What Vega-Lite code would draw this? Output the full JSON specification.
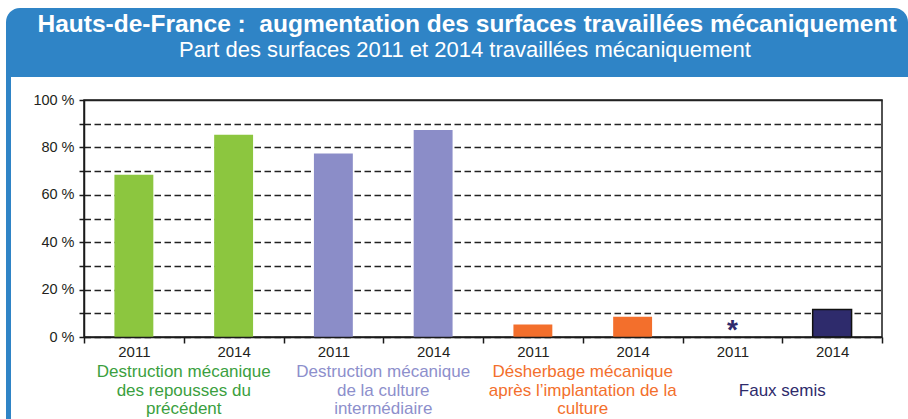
{
  "$schema": "https://vega.github.io/schema/vega-lite/v6.json",
  "padding": {"left": 6, "top": 8, "right": 0, "bottom": 0},
  "background": "white",
  "bounds": "flush",
  "spacing": 0,
  "config": {"font": "Liberation Sans"},
  "vconcat": [
    {
      "width": 902,
      "height": 69,
      "view": {"stroke": null},
      "layer": [
        {
          "data": {"values": [{}]},
          "mark": {"type": "rect", "color": "#2f84c6", "cornerRadiusTopLeft": 14, "cornerRadiusTopRight": 14},
          "encoding": {}
        },
        {
          "data": {"values": [{"line": "t", "text": "Hauts-de-France : \u00a0augmentation des surfaces travaillées mécaniquement"}]},
          "mark": {"type": "text", "fontWeight": "bold", "fontSize": 24.5, "color": "white", "baseline": "alphabetic", "dx": 10},
          "encoding": {
            "y": {"field": "line", "type": "nominal", "scale": {"type": "point", "domain": ["t", "s"], "range": [24, 48.7], "padding": 0}, "axis": null},
            "text": {"field": "text"}
          }
        },
        {
          "data": {"values": [{"line": "s", "text": "Part des surfaces 2011 et 2014 travaillées mécaniquement"}]},
          "mark": {"type": "text", "fontSize": 22, "color": "white", "baseline": "alphabetic", "dx": 8},
          "encoding": {
            "y": {"field": "line", "type": "nominal", "axis": null},
            "text": {"field": "text"}
          }
        }
      ]
    },
    {
      "width": 5,
      "height": 23,
      "view": {"stroke": null},
      "data": {"values": [{}]},
      "mark": {"type": "rect", "color": "#2f84c6"},
      "encoding": {}
    },
    {
      "spacing": 73,
      "bounds": "flush",
      "hconcat": [
        {
          "width": 5,
          "height": 319,
          "view": {"stroke": null},
          "data": {"values": [{}]},
          "mark": {"type": "rect", "color": "#2f84c6"},
          "encoding": {}
        },
        {
          "width": 798,
          "height": 237,
          "view": {"stroke": "#1a1a1a", "strokeWidth": 1.5},
          "resolve": {"scale": {"color": "independent"}},
          "layer": [
            {
              "data": {"values": [
                {"key": "g1-2011", "cat": "Destruction mécanique des repousses du précédent", "year": "2011", "value": 68.5},
                {"key": "g1-2014", "cat": "Destruction mécanique des repousses du précédent", "year": "2014", "value": 85.3},
                {"key": "g2-2011", "cat": "Destruction mécanique de la culture intermédiaire", "year": "2011", "value": 77.4},
                {"key": "g2-2014", "cat": "Destruction mécanique de la culture intermédiaire", "year": "2014", "value": 87.3},
                {"key": "g3-2011", "cat": "Désherbage mécanique après l’implantation de la culture", "year": "2011", "value": 5.3},
                {"key": "g3-2014", "cat": "Désherbage mécanique après l’implantation de la culture", "year": "2014", "value": 8.5},
                {"key": "g4-2014", "cat": "Faux semis", "year": "2014", "value": 11.6}
              ]},
              "mark": {"type": "bar", "width": {"band": 0.39}, "strokeWidth": 1.5},
              "encoding": {
                "x": {
                  "field": "key", "type": "nominal", "sort": null,
                  "scale": {"domain": ["g1-2011", "g1-2014", "g2-2011", "g2-2014", "g3-2011", "g3-2014", "g4-2011", "g4-2014"], "paddingInner": 0, "paddingOuter": 0},
                  "axis": {
                    "title": null, "labelAngle": 0, "labelExpr": "slice(datum.label, -4)",
                    "tickBand": "extent", "tickSize": 6, "tickColor": "#1a1a1a", "tickWidth": 1.5,
                    "domainColor": "#1a1a1a", "domainWidth": 1.5,
                    "labelFontSize": 15, "labelColor": "#231f20", "labelPadding": 1, "zindex": 1
                  }
                },
                "y": {
                  "field": "value", "type": "quantitative",
                  "scale": {"domain": [0, 100], "nice": false},
                  "axis": {
                    "title": null,
                    "values": [0, 10, 20, 30, 40, 50, 60, 70, 80, 90, 100],
                    "labelExpr": "datum.value % 20 == 0 ? datum.value + ' %' : ''",
                    "labelOverlap": false,
                    "tickSize": 5, "tickColor": "#1a1a1a", "tickWidth": 1.5,
                    "domainColor": "#1a1a1a", "domainWidth": 1.5,
                    "labelFontSize": 14.5, "labelColor": "#231f20", "labelPadding": 5,
                    "grid": true, "gridColor": "#222222", "gridWidth": 1.5,
                    "gridDash": {"condition": {"test": "datum.value === 100", "value": []}, "value": [6.5, 3.5]}
                  }
                },
                "color": {
                  "field": "cat", "type": "nominal",
                  "scale": {
                    "domain": ["Destruction mécanique des repousses du précédent", "Destruction mécanique de la culture intermédiaire", "Désherbage mécanique après l’implantation de la culture", "Faux semis"],
                    "range": ["#8cc63f", "#8b8dc8", "#f36f2c", "#2e2b6c"]
                  },
                  "legend": null
                },
                "stroke": {"condition": {"test": "datum.cat === 'Faux semis'", "value": "#111111"}, "value": "transparent"}
              }
            },
            {
              "data": {"values": [{"key": "g4-2011", "note": "*"}]},
              "mark": {"type": "text", "fontSize": 28, "fontWeight": "bold", "color": "#2e2b6c", "baseline": "middle", "dy": -6},
              "encoding": {
                "x": {"field": "key", "type": "nominal"},
                "y": {
                  "datum": 0, "type": "quantitative",
                  "axis": {
                    "title": null,
                    "values": [0, 10, 20, 30, 40, 50, 60, 70, 80, 90, 100],
                    "labelExpr": "datum.value % 20 == 0 ? datum.value + ' %' : ''",
                    "labelOverlap": false,
                    "tickSize": 5, "tickColor": "#1a1a1a", "tickWidth": 1.5,
                    "domainColor": "#1a1a1a", "domainWidth": 1.5,
                    "labelFontSize": 14.5, "labelColor": "#231f20", "labelPadding": 5,
                    "grid": true, "gridColor": "#222222", "gridWidth": 1.5,
                    "gridDash": {"condition": {"test": "datum.value === 100", "value": []}, "value": [6.5, 3.5]}
                  }
                },
                "text": {"field": "note"}
              }
            },
            {
              "data": {"values": [
                {"key": "g1-2014", "cat": "Destruction mécanique des repousses du précédent", "label": "Destruction mécanique\ndes repousses du\nprécédent"},
                {"key": "g2-2014", "cat": "Destruction mécanique de la culture intermédiaire", "label": "Destruction mécanique\nde la culture\nintermédiaire"},
                {"key": "g3-2014", "cat": "Désherbage mécanique après l’implantation de la culture", "label": "Désherbage mécanique\naprès l’implantation de la\nculture"},
                {"key": "g4-2014", "cat": "Faux semis", "label": "\nFaux semis"}
              ]},
              "mark": {"type": "text", "fontSize": 17, "lineBreak": "\n", "lineHeight": 18.5, "baseline": "middle"},
              "encoding": {
                "x": {"field": "key", "type": "nominal", "bandPosition": 0},
                "y": {
                  "datum": -14.8, "type": "quantitative",
                  "axis": {
                    "title": null,
                    "values": [0, 10, 20, 30, 40, 50, 60, 70, 80, 90, 100],
                    "labelExpr": "datum.value % 20 == 0 ? datum.value + ' %' : ''",
                    "labelOverlap": false,
                    "tickSize": 5, "tickColor": "#1a1a1a", "tickWidth": 1.5,
                    "domainColor": "#1a1a1a", "domainWidth": 1.5,
                    "labelFontSize": 14.5, "labelColor": "#231f20", "labelPadding": 5,
                    "grid": true, "gridColor": "#222222", "gridWidth": 1.5,
                    "gridDash": {"condition": {"test": "datum.value === 100", "value": []}, "value": [6.5, 3.5]}
                  }
                },
                "text": {"field": "label"},
                "color": {
                  "field": "cat", "type": "nominal",
                  "scale": {
                    "domain": ["Destruction mécanique des repousses du précédent", "Destruction mécanique de la culture intermédiaire", "Désherbage mécanique après l’implantation de la culture", "Faux semis"],
                    "range": ["#3b9f40", "#8d8fcc", "#f36f2c", "#2e2b6c"]
                  },
                  "legend": null
                }
              }
            }
          ]
        }
      ]
    }
  ]
}
